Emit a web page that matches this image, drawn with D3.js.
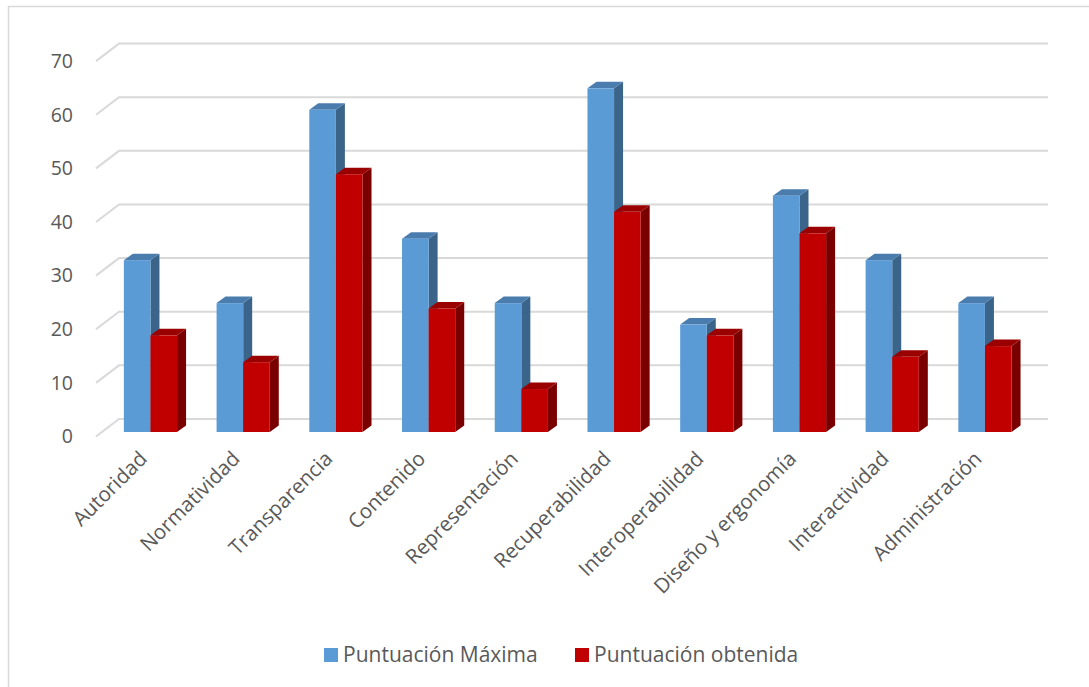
<!DOCTYPE html>
<html>
<head>
<meta charset="utf-8">
<script src="https://cdn.jsdelivr.net/npm/d3@7"></script>
<style>
  html, body { margin: 0; padding: 0; background: #fff; }
  svg { display: block; }
  text { font-family: "Open Sans", "Noto Sans", sans-serif; fill: #595959; }
</style>
</head>
<body>
<svg id="chart" width="1089" height="687"></svg>
<script>
// Criteria evaluated and their scores
const categories = ["Autoridad", "Normatividad", "Transparencia", "Contenido", "Representación",
  "Recuperabilidad", "Interoperabilidad", "Diseño y ergonomía", "Interactividad", "Administración"];
const seriesNames = ["Puntuación Máxima", "Puntuación obtenida"];
const maxScore = [32, 24, 60, 36, 24, 64, 20, 44, 32, 24];
const obtainedScore = [18, 13, 48, 23, 8, 41, 18, 37, 14, 16];
const yTicks = [0, 10, 20, 30, 40, 50, 60, 70];

const colors = [
  { front: "#5B9BD5", top: "#4A7DAE", side: "#3A6489" },
  { front: "#C00000", top: "#9A0000", side: "#7A0000" }
];

const svg = d3.select("#chart");
const W = 1089, H = 687;

// Outer chart frame
svg.append("path")
  .attr("d", `M8.5,${H} V6.5 H${W}`)
  .attr("fill", "none").attr("stroke", "#D9D9D9").attr("stroke-width", 1.5);

// Perspective: back wall vs. front edge of the floor
const wallX0 = 119, wallX1 = 1048;
const depth = { dx: -23, dy: 17.5 };
const yBack = d3.scaleLinear().domain([0, 70]).range([419, 43.6]);
const yFront = d3.scaleLinear().domain([0, 70]).range([432, 56.1]);

// Gridlines on the back wall and side wall
const grid = svg.append("g");
yTicks.forEach(t => {
  const y = yBack(t);
  grid.append("path")
    .attr("d", `M${wallX0 + depth.dx},${y + depth.dy} L${wallX0},${y} H${wallX1}`)
    .attr("fill", "none").attr("stroke", "#D9D9D9").attr("stroke-width", 2);
});

// Value axis labels
svg.append("g").selectAll("text").data(yTicks).join("text")
  .attr("x", 73).attr("y", t => yBack(t) + depth.dy)
  .attr("dy", "0.35em").attr("text-anchor", "end")
  .attr("font-size", 19.5)
  .text(d => d);

// Category and series scales
const x0 = d3.scaleBand().domain(categories).range([104.1, 1031.3]).padding(0);
const groupW = 53.2;
const x1 = d3.scaleBand().domain(seriesNames)
  .range([(x0.bandwidth() - groupW) / 2, (x0.bandwidth() + groupW) / 2]);

const barDepth = { dx: 9, dy: -6.5 };
const values = [maxScore, obtainedScore];

const bars = svg.append("g");
categories.forEach((c, i) => {
  seriesNames.forEach((s, j) => {
    const v = values[j][i];
    const xl = x0(c) + x1(s), xr = xl + x1.bandwidth();
    const yt = yFront(v), yb = yFront(0);
    const col = colors[j];
    const g = bars.append("g");
    // right side face
    g.append("path")
      .attr("d", `M${xr},${yb} L${xr + barDepth.dx},${yb + barDepth.dy} L${xr + barDepth.dx},${yt + barDepth.dy} L${xr},${yt} Z`)
      .attr("fill", col.side);
    // top face
    g.append("path")
      .attr("d", `M${xl},${yt} L${xl + barDepth.dx},${yt + barDepth.dy} L${xr + barDepth.dx},${yt + barDepth.dy} L${xr},${yt} Z`)
      .attr("fill", col.top);
    // front face
    g.append("rect")
      .attr("x", xl).attr("y", yt)
      .attr("width", xr - xl).attr("height", yb - yt)
      .attr("fill", col.front);
  });
});

// Category labels, rotated
svg.append("g").selectAll("text").data(categories).join("text")
  .attr("transform", c => `translate(${x0(c) + x0.bandwidth() / 2 - 2},${460}) rotate(-45)`)
  .attr("text-anchor", "end")
  .attr("font-size", 20.5)
  .text(d => d);

// Legend
const legend = svg.append("g");
const legendItems = [
  { name: seriesNames[0], x: 324, color: colors[0].front },
  { name: seriesNames[1], x: 575, color: colors[1].front }
];
legendItems.forEach(it => {
  legend.append("rect").attr("x", it.x).attr("y", 648).attr("width", 14).attr("height", 14).attr("fill", it.color);
  legend.append("text").attr("x", it.x + 19).attr("y", 655).attr("dy", "0.35em")
    .attr("font-size", 21).text(it.name);
});
</script>
</body>
</html>
